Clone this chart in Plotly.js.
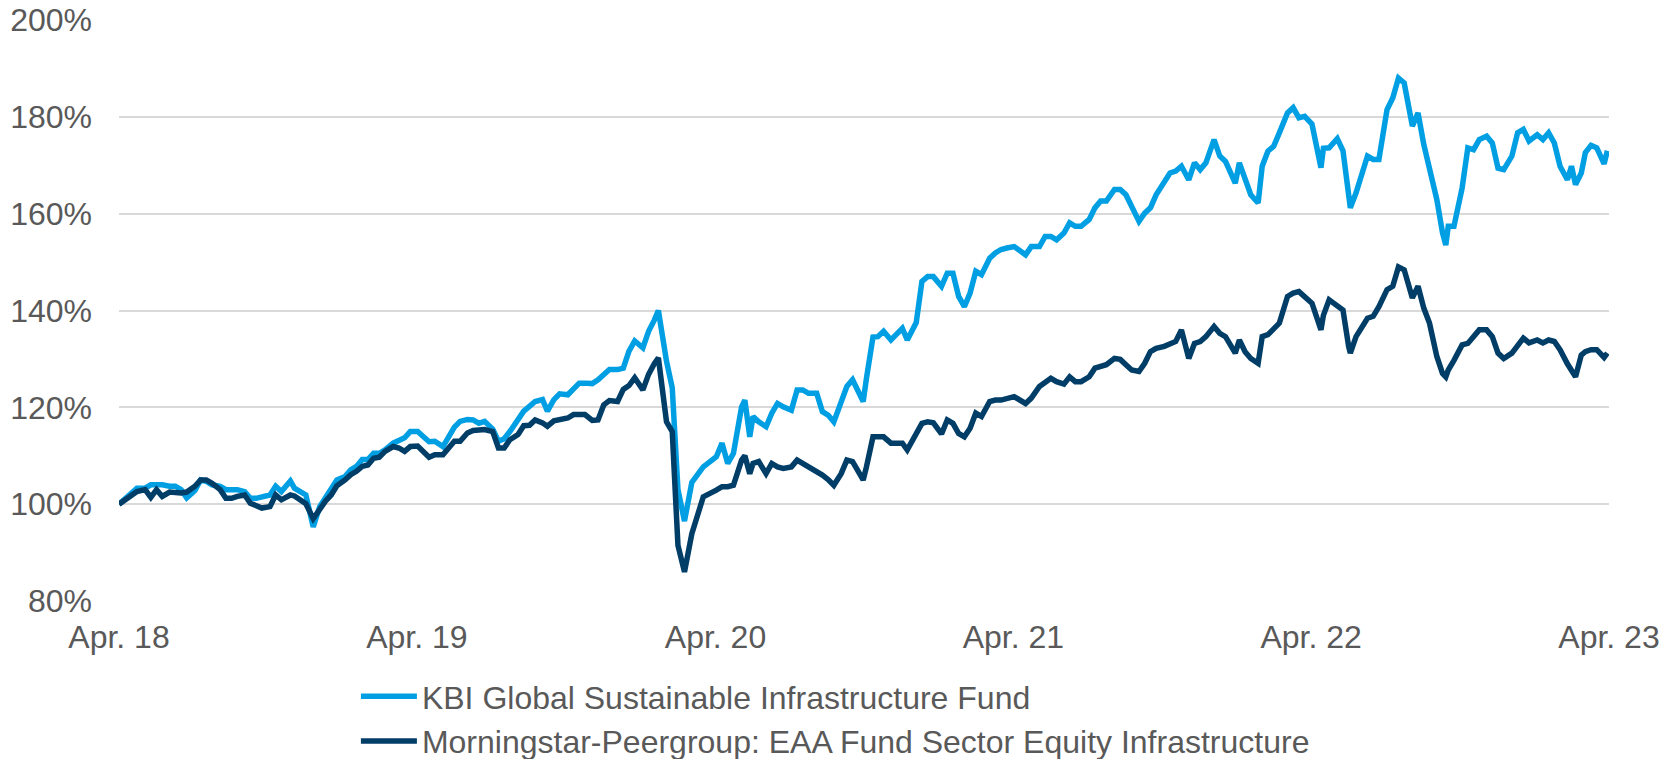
<!DOCTYPE html>
<html>
<head>
<meta charset="utf-8">
<script src="https://cdn.plot.ly/plotly-3.0.1.min.js"></script>
<style>
  html, body { margin: 0; padding: 0; background: white; }
  #chart { width: 1677px; height: 759px; }
</style>
</head>
<body>
<div id="chart"></div>
<script>
// Indexed performance, start = 100 %
const dates = [
  '2018-04-30', '2018-05-15', '2018-05-22', '2018-06-01', '2018-06-08', '2018-06-15', '2018-06-22', '2018-07-01', '2018-07-08', '2018-07-15', '2018-07-22',
  '2018-08-01', '2018-08-08', '2018-08-15', '2018-08-22', '2018-09-01', '2018-09-08', '2018-09-15', '2018-09-22', '2018-10-01', '2018-10-08', '2018-10-15', '2018-10-22',
  '2018-11-01', '2018-11-08', '2018-11-15', '2018-11-26', '2018-12-01', '2018-12-15', '2018-12-24',
  '2019-01-01', '2019-01-08', '2019-01-15', '2019-01-22', '2019-02-01', '2019-02-08', '2019-02-15', '2019-02-22',
  '2019-03-01', '2019-03-08', '2019-03-15', '2019-03-22', '2019-04-01', '2019-04-08', '2019-04-15', '2019-04-22',
  '2019-05-01', '2019-05-15', '2019-05-22', '2019-06-01', '2019-06-08', '2019-06-15', '2019-06-22',
  '2019-07-01', '2019-07-08', '2019-07-15', '2019-07-22', '2019-08-01', '2019-08-08', '2019-08-15', '2019-08-22',
  '2019-09-01', '2019-09-08', '2019-09-15', '2019-09-22', '2019-10-01', '2019-10-07', '2019-10-15', '2019-10-22',
  '2019-11-01', '2019-11-08', '2019-11-15', '2019-11-22', '2019-12-01', '2019-12-08', '2019-12-15', '2019-12-22',
  '2020-01-01', '2020-01-08', '2020-01-15', '2020-01-22', '2020-02-01', '2020-02-08', '2020-02-15', '2020-02-20',
  '2020-03-01', '2020-03-08', '2020-03-15', '2020-03-23', '2020-04-01', '2020-04-15',
  '2020-05-01', '2020-05-08', '2020-05-15', '2020-05-22', '2020-06-01', '2020-06-05', '2020-06-11', '2020-06-15', '2020-06-22',
  '2020-07-01', '2020-07-08', '2020-07-15', '2020-07-22', '2020-08-01', '2020-08-08', '2020-08-15', '2020-08-22',
  '2020-09-01', '2020-09-08', '2020-09-15', '2020-09-22', '2020-10-01', '2020-10-08', '2020-10-15', '2020-10-28',
  '2020-11-01', '2020-11-09', '2020-11-15', '2020-11-22', '2020-12-01', '2020-12-08', '2020-12-15', '2020-12-21',
  '2021-01-01', '2021-01-08', '2021-01-15', '2021-01-22', '2021-02-01', '2021-02-08', '2021-02-15', '2021-02-22',
  '2021-03-01', '2021-03-08', '2021-03-15', '2021-03-22', '2021-04-01', '2021-04-08', '2021-04-15', '2021-04-22',
  '2021-05-01', '2021-05-15', '2021-05-22', '2021-06-01', '2021-06-08', '2021-06-15', '2021-06-22',
  '2021-07-01', '2021-07-08', '2021-07-15', '2021-07-22', '2021-08-01', '2021-08-08', '2021-08-15', '2021-08-22',
  '2021-09-01', '2021-09-08', '2021-09-15', '2021-09-22', '2021-10-01', '2021-10-08', '2021-10-15', '2021-10-22',
  '2021-11-01', '2021-11-08', '2021-11-15', '2021-11-22', '2021-12-01', '2021-12-08', '2021-12-15', '2021-12-22',
  '2022-01-01', '2022-01-08', '2022-01-15', '2022-01-27', '2022-02-01', '2022-02-08', '2022-02-15', '2022-02-24',
  '2022-03-01', '2022-03-08', '2022-03-15', '2022-03-22', '2022-04-01', '2022-04-08', '2022-04-15', '2022-04-22',
  '2022-05-01', '2022-05-12', '2022-05-15', '2022-05-22', '2022-06-01', '2022-06-08', '2022-06-15', '2022-06-17', '2022-06-24',
  '2022-07-01', '2022-07-08', '2022-07-15', '2022-07-22', '2022-08-01', '2022-08-08', '2022-08-15', '2022-08-22',
  '2022-09-01', '2022-09-08', '2022-09-15', '2022-09-22', '2022-10-01', '2022-10-08', '2022-10-12', '2022-10-15', '2022-10-22',
  '2022-11-01', '2022-11-08', '2022-11-15', '2022-11-22', '2022-12-01', '2022-12-08', '2022-12-15', '2022-12-22',
  '2023-01-01', '2023-01-08', '2023-01-15', '2023-01-22', '2023-02-01', '2023-02-08', '2023-02-15', '2023-02-22',
  '2023-03-01', '2023-03-10', '2023-03-15', '2023-03-20', '2023-03-27', '2023-04-01', '2023-04-08', '2023-04-15', '2023-04-24', '2023-04-28'
]

const kbiFund = [
  100.0, 102.3, 103.3, 103.3, 104.0, 104.0, 104.0, 103.7, 103.7, 103.0, 101.3,
  102.8, 105.0, 104.7, 104.0, 103.7, 103.0, 103.0, 103.0, 102.6, 101.2, 101.2, 101.6,
  101.9, 103.7, 102.6, 104.8, 103.3, 101.9, 95.3,
  99.5, 101.2, 103.0, 105.0, 105.7, 107.1, 107.8, 109.2,
  109.2, 110.5, 110.5, 111.2, 112.6, 113.3, 113.7, 115.0,
  115.0, 112.9, 113.0, 111.9, 113.7, 115.9, 117.1,
  117.5, 117.4, 116.7, 117.1, 115.5, 113.0, 113.5, 115.0,
  117.4, 119.2, 120.2, 121.2, 121.6, 119.2, 121.6, 122.8,
  122.6, 124.0, 125.0, 125.0, 124.9, 125.7, 126.6, 127.8,
  127.8, 128.1, 131.6, 133.7, 132.3, 135.7, 138.0, 140.0,
  129.5, 124.0, 103.0, 96.5, 104.5, 107.7,
  109.8, 112.6, 108.4, 110.5, 120.1, 121.5, 113.9, 118.1, 117.0,
  116.0, 118.8, 120.8, 120.1, 119.4, 123.6, 123.6, 122.9,
  122.9, 119.1, 118.4, 117.0, 120.8, 124.3, 125.7, 121.2,
  126.0, 134.5, 134.6, 135.7, 133.9, 135.3, 136.3, 133.9,
  137.5, 146.0, 147.0, 147.0, 145.0, 147.7, 147.7, 142.9,
  140.8, 143.6, 148.1, 147.4, 150.8, 151.9, 152.6, 152.9,
  153.2, 151.5, 153.2, 153.2, 155.3, 155.3, 154.6,
  156.0, 158.1, 157.4, 157.4, 158.8, 161.2, 162.6, 162.6,
  165.0, 165.0, 163.9, 161.5, 158.4, 160.1, 161.2, 163.9,
  166.3, 168.4, 168.8, 169.8, 167.0, 170.5, 169.1, 170.5,
  175.3, 171.9, 170.8, 166.3, 170.5, 167.0, 163.9, 162.2,
  169.8, 172.9, 173.9, 176.7, 180.8, 181.9, 179.8, 180.1,
  178.5, 169.5, 173.5, 173.6, 175.5, 173.0, 163.0, 161.2, 164.3,
  167.7, 171.9, 171.2, 171.2, 181.5, 183.9, 188.0, 187.0,
  178.1, 180.8, 174.3, 169.1, 162.9, 156.0, 153.5, 157.4, 157.4,
  165.3, 173.6, 173.2, 175.3, 176.0, 174.6, 169.4, 169.1,
  171.9, 176.7, 177.4, 175.0, 176.3, 175.3, 176.7, 174.6,
  169.8, 167.0, 169.8, 166.0, 168.4, 172.6, 174.1, 173.6, 170.3, 173.0
]

const peerGroup = [
  100.0, 101.9, 102.6, 103.0, 101.4, 103.0, 101.6, 102.5, 102.3, 102.3, 102.5,
  103.7, 105.0, 105.0, 104.3, 103.0, 101.2, 101.2, 101.6, 101.9, 100.2, 99.7, 99.2,
  99.5, 101.9, 100.9, 101.9, 101.7, 100.1, 97.0,
  99.2, 100.6, 101.9, 103.8, 105.0, 106.1, 106.8, 107.8,
  108.1, 109.5, 109.7, 110.9, 111.9, 111.6, 110.9, 111.9,
  112.0, 109.7, 110.2, 110.2, 111.6, 113.0, 113.0,
  114.7, 115.2, 115.4, 115.4, 115.0, 111.6, 111.6, 113.3,
  114.4, 116.2, 116.3, 117.4, 116.8, 116.1, 117.2, 117.4,
  117.8, 118.5, 118.5, 118.5, 117.3, 117.4, 120.5, 121.4,
  121.2, 123.7, 124.5, 126.1, 123.6, 126.8, 129.0, 130.2,
  117.0, 115.0, 91.5, 86.0, 93.9, 101.5,
  102.9, 103.6, 103.6, 103.9, 109.1, 110.0, 106.3, 108.4, 108.8,
  106.3, 108.4, 107.7, 107.4, 107.7, 109.1, 108.4, 107.7,
  107.0, 106.0, 105.1, 103.9, 106.3, 109.1, 108.8, 105.0,
  107.7, 113.9, 113.9, 113.9, 112.6, 112.6, 112.6, 111.2,
  114.5, 116.7, 117.0, 116.8, 114.5, 117.4, 116.7, 114.6,
  113.9, 115.7, 118.8, 118.1, 121.2, 121.5, 121.5, 121.7,
  122.2, 120.8, 121.9, 124.3, 125.3, 126.0, 125.3,
  124.8, 126.3, 125.3, 125.3, 126.3, 128.1, 128.6, 128.8,
  130.1, 129.9, 128.8, 127.7, 127.4, 129.1, 131.5, 132.2,
  132.6, 133.1, 133.6, 136.0, 130.1, 133.2, 133.6, 134.6,
  136.7, 135.3, 134.6, 131.2, 133.9, 131.5, 130.1, 129.1,
  134.6, 135.0, 136.3, 137.4, 142.9, 143.6, 143.9, 142.9,
  141.5, 136.0, 139.0, 142.2, 141.0, 140.1, 132.5, 131.2, 134.6,
  136.7, 138.4, 138.8, 140.8, 144.3, 145.0, 149.0, 148.4,
  142.6, 145.0, 140.5, 137.4, 130.5, 127.0, 126.3, 127.7, 129.7,
  132.9, 133.2, 134.6, 136.0, 136.0, 134.6, 131.2, 130.1,
  131.2, 132.6, 134.3, 133.3, 133.9, 133.3, 133.9, 133.6,
  131.9, 129.0, 127.7, 126.3, 130.8, 131.5, 131.9, 131.9, 130.3, 131.2
]

const seriesNames = [
  'KBI Global Sustainable Infrastructure Fund',
  'Morningstar-Peergroup: EAA Fund Sector Equity Infrastructure'
]
const tickDates = ['2018-04-30', '2019-04-30', '2020-04-30', '2021-04-30', '2022-04-30', '2023-04-30']
const tickLabels = ['Apr. 18', 'Apr. 19', 'Apr. 20', 'Apr. 21', 'Apr. 22', 'Apr. 23']
const yTicks = [80, 100, 120, 140, 160, 180, 200]
const yLabels = ['80%', '100%', '120%', '140%', '160%', '180%', '200%']

const labelFont = { family: 'Liberation Sans, Arial, sans-serif', size: 32, color: '#595959' }

function makeTrace(values, name, color) {
  return {
    type: 'scatter',
    mode: 'lines',
    x: dates,
    y: values,
    name: name,
    line: { color: color, width: 5.5 },
    hoverinfo: 'skip'
  }
}

let traces = [
  makeTrace(kbiFund, seriesNames[0], '#009FE3'),
  makeTrace(peerGroup, seriesNames[1], '#003D67')
]

let layout = {
  width: 1677,
  height: 759,
  margin: { l: 119, r: 68, t: 20, b: 158, autoexpand: false },
  paper_bgcolor: 'white',
  plot_bgcolor: 'white',
  font: labelFont,
  showlegend: true,
  legend: {
    orientation: 'v',
    x: 0.159, y: -0.117,
    xanchor: 'left', yanchor: 'top',
    font: labelFont,
    bgcolor: 'rgba(0,0,0,0)',
    itemwidth: 56
  },
  xaxis: {
    type: 'date',
    range: ['2018-04-30', '2023-04-30'],
    tickvals: tickDates,
    ticktext: tickLabels,
    tickangle: 0,
    showgrid: false,
    zeroline: false,
    showline: false,
    ticks: '',
    ticklabelstandoff: 14,
    tickfont: labelFont
  },
  yaxis: {
    range: [80, 200],
    tickvals: yTicks,
    ticktext: yLabels,
    showgrid: true,
    gridcolor: '#D9D9D9',
    gridwidth: 2,
    zeroline: false,
    showline: false,
    ticks: '',
    ticklabelstandoff: 26,
    tickfont: labelFont
  }
}

Plotly.newPlot('chart', traces, layout, { displayModeBar: false, staticPlot: true })
</script>
</body>
</html>
